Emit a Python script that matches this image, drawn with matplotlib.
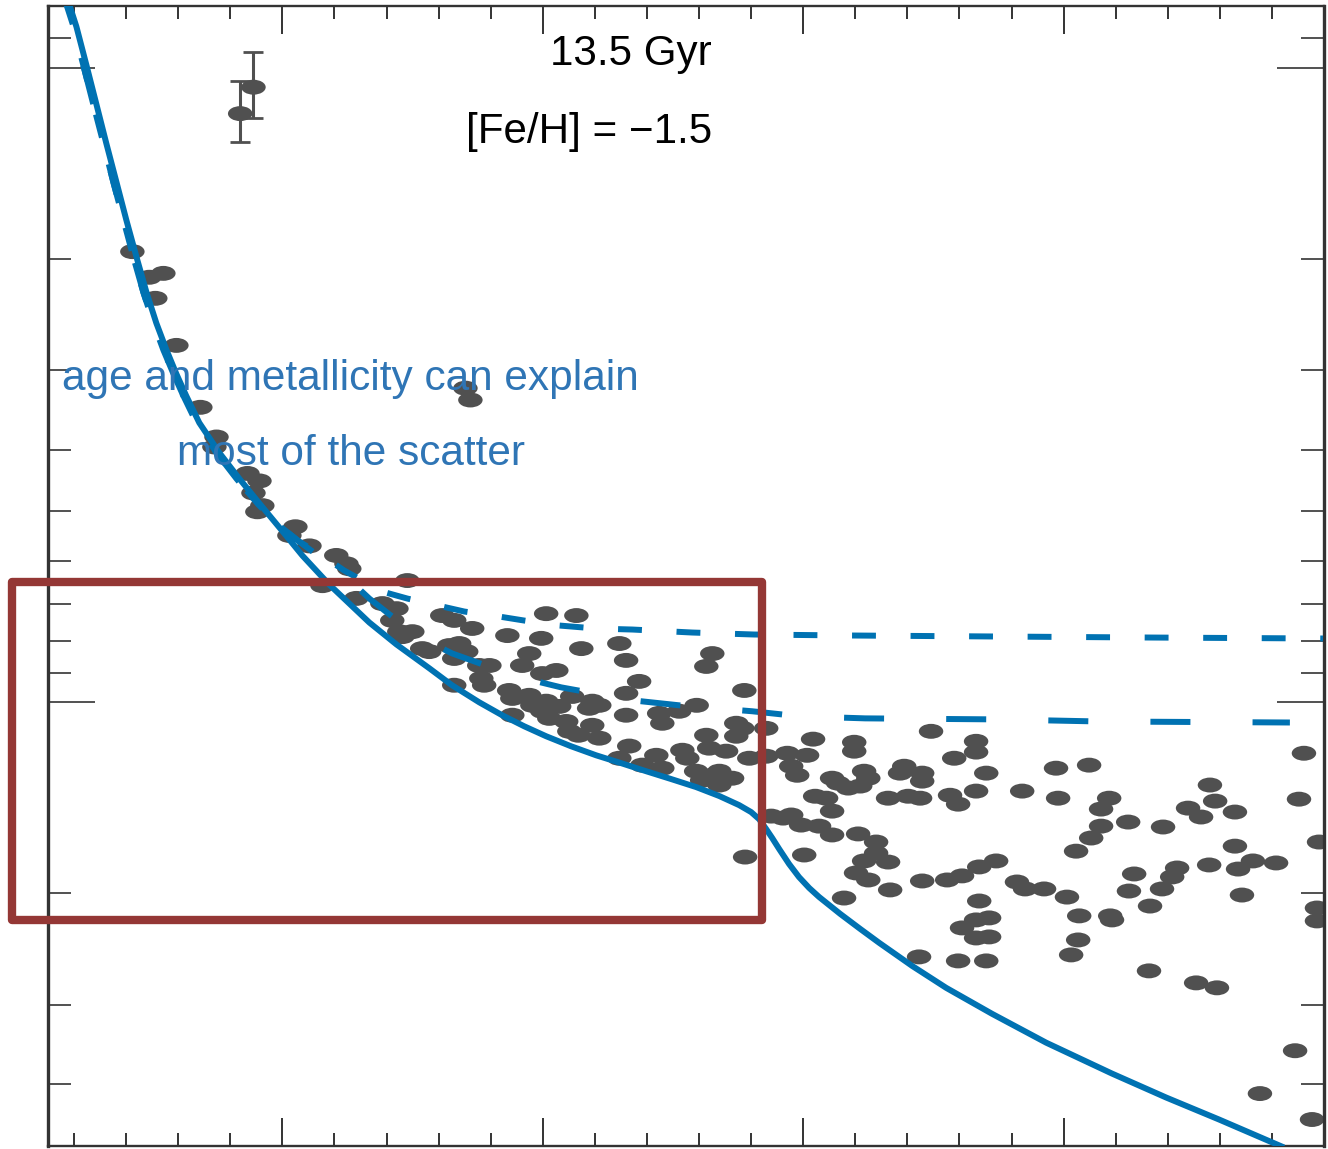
#!/usr/bin/env python3
"""
Isochrone vs. observed stars - 13.5 Gyr, [Fe/H] = -1.5
"""

import numpy as np
import matplotlib
matplotlib.use("Agg")
import matplotlib.pyplot as plt
from matplotlib.path import Path
from matplotlib.patches import Rectangle
from matplotlib.transforms import Affine2D
from matplotlib.ticker import MultipleLocator, LogLocator, NullFormatter

plt.rcParams['font.family'] = ['Liberation Sans', 'DejaVu Sans']

# ---- observed stars (x, y) ----
obs_x = [
    # upper branch
    0.424, 0.489, 0.543, 0.512, 0.593, 0.685, 0.747, 0.739, 0.866, 0.912,
    0.889, 0.923, 0.904, 1.050, 1.027, 1.104, 1.207, 1.246, 1.257, 1.154,
    1.480, 1.703, 1.722,
    # knee
    1.284, 1.384, 1.438, 1.422, 1.449, 1.499, 1.461, 1.614, 1.660, 1.729,
    1.537, 1.564, 1.641, 1.679, 1.706, 1.660, 1.756, 1.795, 1.764, 1.775,
    1.660, 1.864,
    # inside the box
    2.013, 2.129, 1.994, 2.148, 2.294, 1.948, 1.921, 2.320, 2.651, 2.628,
    2.052, 1.998, 2.370, 1.871, 1.883, 1.948, 1.960, 2.013, 2.063, 2.113,
    2.190, 2.217, 2.178, 2.320, 2.774, 2.591, 2.320, 2.447, 2.524, 2.459,
    1.883, 1.998, 2.025, 2.090, 2.102, 2.137, 2.190, 2.217, 2.743, 2.766,
    2.858, 2.628, 2.743, 2.332, 2.294, 2.436, 2.382, 2.459, 2.536, 2.555,
    2.639, 2.704, 2.589, 2.651, 2.727, 2.678, 2.612, 2.793, 2.858, 2.678,
    2.632, 2.777,
    # right of the box
    3.038, 3.196, 3.196, 2.939, 3.015, 2.954, 2.977, 3.111, 3.134, 3.046,
    3.088, 3.234, 3.250, 3.219, 3.173, 3.372, 3.388, 3.457, 3.457, 3.326,
    3.403, 3.449, 3.564, 3.595, 3.664, 3.703, 3.491, 3.664, 3.664, 3.580,
    3.841, 3.111, 2.954, 2.877, 2.923, 2.992, 3.061, 3.111, 3.211, 3.280,
    3.280, 3.234, 3.203, 3.250, 3.326, 3.334, 3.157, 3.004, 3.457, 3.553,
    3.610, 3.676, 3.741, 3.821, 3.852, 3.925, 4.013, 3.676, 3.610, 3.664,
    3.714, 3.664, 3.714, 3.445, 3.595, 3.703, 4.048,
    # far right
    3.971, 4.098, 3.979, 4.175, 4.144, 4.144, 4.248, 4.106, 4.382, 4.478,
    4.528, 4.562, 4.582, 4.658, 4.658, 4.559, 4.436, 4.417, 4.271, 4.378,
    4.251, 4.332, 4.670, 4.727, 4.816, 4.685, 4.060, 4.179, 4.186, 4.056,
    4.029, 4.328, 4.509, 4.589, 4.923, 4.904, 4.981, 4.973, 4.973, 4.889,
    4.754, 4.954,
]
obs_y = [
    1.95, 2.14, 2.11, 2.31, 2.74, 3.43, 3.82, 3.96, 4.36, 4.48,
    4.68, 4.90, 5.01, 5.29, 5.46, 5.67, 5.87, 6.05, 6.16, 6.55,
    6.43, 3.20, 3.34,
    6.86, 6.99, 7.12, 7.43, 7.74, 7.74, 7.88, 7.30, 7.43, 7.65,
    8.23, 8.32, 8.14, 8.08, 8.32, 8.53, 8.75, 8.75, 9.17, 9.40,
    9.40, 7.85,
    7.25, 7.30, 7.93, 8.23, 8.08, 8.38, 8.75, 8.59, 8.38, 8.78,
    8.91, 9.01, 9.27, 9.58, 9.86, 9.75, 10.11, 9.96, 10.15, 9.79,
    9.96, 10.11, 10.22, 9.68, 9.58, 10.11, 10.48, 10.41, 10.33, 10.79,
    10.48, 10.33, 10.60, 10.72, 11.11, 11.27, 10.87, 11.39, 10.79, 10.99,
    10.99, 11.27, 11.31, 11.72, 12.25, 12.12, 12.56, 12.70, 11.90, 12.25,
    11.81, 11.94, 12.84, 13.03, 13.17, 13.50, 13.27, 12.25, 12.16, 12.84,
    13.17, 17.53,
    11.43, 11.56, 11.94, 12.03, 12.12, 12.61, 13.03, 13.17, 13.41, 14.06,
    14.16, 12.84, 13.17, 13.55, 13.65, 12.93, 12.61, 12.93, 13.31, 14.16,
    14.06, 14.16, 14.01, 14.47, 13.80, 12.93, 11.11, 11.52, 11.98, 12.25,
    13.80, 14.84, 15.05, 15.11, 15.22, 15.61, 15.67, 16.18, 16.12, 16.60,
    17.28, 17.78, 18.57, 19.05, 17.85, 19.75, 20.34, 17.40, 19.12, 19.05,
    18.77, 18.17, 17.78, 19.19, 19.68, 19.68, 20.27, 20.56, 22.67, 22.02,
    21.86, 23.51, 23.42, 25.18, 25.55, 25.55, 17.16,
    12.70, 12.56, 14.16, 14.16, 14.73, 15.67, 15.44, 16.36, 15.72, 14.68,
    15.16, 13.50, 14.31, 14.89, 16.85, 18.04, 18.24, 18.84, 18.64, 19.68,
    19.83, 20.94, 18.31, 17.78, 17.91, 20.12, 21.70, 21.70, 22.02, 23.68,
    25.00, 26.49, 27.67, 28.17, 12.03, 14.21, 16.60, 21.09, 22.10, 35.39,
    41.34, 45.42,
]

# ---- typical error bars ----
err_x = [0.838, 0.889]
err_y = [1.182, 1.074]
err_y_size = [0.13, 0.129]

# ---- isochrone (solid) ----
iso_x = [0.178, 0.209, 0.248, 0.286, 0.324, 0.363, 0.401, 0.440, 0.478, 0.516,
         0.555, 0.593, 0.631, 0.681, 0.758, 0.835, 0.919, 1.008, 1.077, 1.180,
         1.257, 1.334, 1.438, 1.565, 1.652, 1.756, 1.844, 1.929, 2.013, 2.109,
         2.205, 2.301, 2.397, 2.493, 2.589, 2.678, 2.754, 2.800, 2.831, 2.858,
         2.881, 2.908, 2.946, 2.984, 3.023, 3.061, 3.142, 3.219, 3.292, 3.418,
         3.549, 3.725, 3.933, 4.186, 4.394, 4.597, 4.846]
iso_y = [0.787, 0.862, 0.993, 1.143, 1.317, 1.516, 1.740, 1.990, 2.259, 2.527,
         2.786, 3.039, 3.291, 3.628, 4.045, 4.445, 4.900, 5.424, 5.874, 6.524,
         6.989, 7.487, 8.106, 8.843, 9.403, 10.00, 10.48, 10.91, 11.31, 11.73,
         12.12, 12.47, 12.84, 13.21, 13.60, 14.05, 14.52, 14.89, 15.28, 15.84,
         16.36, 17.03, 17.98, 18.85, 19.61, 20.26, 21.54, 22.75, 23.93, 26.01,
         28.17, 30.95, 34.37, 38.45, 41.94, 45.42, 50.26]

# shared upper part of the two dashed isochrones
upper_x = [0.167, 0.198, 0.236, 0.274, 0.313, 0.351, 0.390, 0.428, 0.466, 0.505,
           0.543, 0.582, 0.620, 0.670, 0.747, 0.824, 0.908, 0.988, 1.065]
upper_y = [0.787, 0.862, 0.993, 1.143, 1.317, 1.516, 1.740, 1.990, 2.259, 2.527,
           2.786, 3.039, 3.291, 3.628, 4.045, 4.445, 4.882, 5.269, 5.584]

# short dashes
sd_x = [1.142, 1.238, 1.384, 1.480, 1.614, 1.699, 1.833, 1.929, 2.063, 2.205,
        2.344, 2.574, 2.812, 3.177, 3.752, 4.328, 4.996]
sd_y = [5.832, 6.202, 6.693, 6.864, 7.065, 7.195, 7.327, 7.434, 7.569, 7.652,
        7.680, 7.764, 7.820, 7.848, 7.877, 7.906, 7.934]

# long dashes
ld_x = [1.142, 1.219, 1.334, 1.514, 1.652, 1.898, 2.071, 2.344, 2.524, 2.804,
        2.985, 3.238, 3.752, 4.136, 4.869]
ld_y = [5.895, 6.202, 6.864, 7.848, 8.376, 9.103, 9.473, 9.928, 10.11, 10.33,
        10.52, 10.60, 10.64, 10.72, 10.76]

# highlight box (data units)
box_x = [-0.040, 2.841]
box_y = [6.454, 22.02]

# ---- styles ----
line_blue = '#0072B2'
text_blue = '#2F75B5'
dot_grey = '#505050'
box_red = '#943735'
axis_grey = '#333333'
lw_iso = 4.3

dot_marker = Affine2D().scale(1.0, 0.61).transform_path(Path.unit_circle())

fig = plt.figure(figsize=(13.28, 11.49), dpi=100)
ax = fig.add_axes([48 / 1328, 3 / 1149, 1276 / 1328, 1140 / 1149])

ax.scatter(obs_x, obs_y, s=310, marker=dot_marker, color=dot_grey,
           edgecolors='none', zorder=2)

ax.errorbar(err_x, err_y, yerr=err_y_size, fmt='none', ecolor=dot_grey,
            elinewidth=2.2, capsize=7.5, capthick=2.0, zorder=2)
ax.scatter(err_x, err_y, s=310, marker=dot_marker, color=dot_grey,
           edgecolors='none', zorder=2)

ax.plot(iso_x, iso_y, color=line_blue, lw=lw_iso, solid_capstyle='butt',
        solid_joinstyle='round', zorder=3)
ax.plot(upper_x + sd_x, upper_y + sd_y, color=line_blue, lw=lw_iso,
        linestyle=(0, (4.0, 5.8)), dash_capstyle='butt', zorder=3)
ax.plot(upper_x + ld_x, upper_y + ld_y, color=line_blue, lw=lw_iso,
        linestyle=(6.0, (6.7, 10.4)), dash_capstyle='butt', zorder=3)

box = Rectangle((box_x[0], box_y[0]), box_x[1] - box_x[0], box_y[1] - box_y[0],
                fill=False, edgecolor=box_red, lw=6, joinstyle='round',
                clip_on=False, zorder=6)
ax.add_patch(box)

# annotations
ax.text(0.5204, 0.9482, '13.5 Gyr', transform=ax.transAxes, ha='right',
        va='baseline', fontsize=30.3, color='black', zorder=7)
ax.text(0.5204, 0.8798, '[Fe/H] = \u22121.5', transform=ax.transAxes, ha='right',
        va='baseline', fontsize=30.3, color='black', zorder=7)
ax.text(0.011, 0.6632, 'age and metallicity can explain', transform=ax.transAxes,
        ha='left', va='baseline', fontsize=30.5, color=text_blue, zorder=7)
ax.text(0.1011, 0.5974, 'most of the scatter', transform=ax.transAxes,
        ha='left', va='baseline', fontsize=30.5, color=text_blue, zorder=7)

# axes
ax.set_yscale('log')
ax.set_xlim(0.1, 5.0)
ax.set_ylim(50, 0.8)

ax.xaxis.set_major_locator(MultipleLocator(1))
ax.xaxis.set_minor_locator(MultipleLocator(0.2))
ax.yaxis.set_major_locator(LogLocator(base=10))
ax.yaxis.set_minor_locator(LogLocator(base=10, subs=np.arange(2, 10) * 1.0))
ax.yaxis.set_minor_formatter(NullFormatter())

ax.tick_params(which='both', direction='in', top=True, right=True,
               labelbottom=False, labelleft=False, labeltop=False,
               labelright=False, color=axis_grey)
ax.tick_params(axis='x', which='major', length=20, width=1.4)
ax.tick_params(axis='x', which='minor', length=9.5, width=1.4)
ax.tick_params(axis='y', which='major', length=34, width=1.2)
ax.tick_params(axis='y', which='minor', length=16.5, width=1.2)

for side in ['left', 'right']:
    ax.spines[side].set_linewidth(2.4)
    ax.spines[side].set_color(axis_grey)
for side in ['top', 'bottom']:
    ax.spines[side].set_linewidth(1.7)
    ax.spines[side].set_color(axis_grey)

fig.savefig('out.png', dpi=100, facecolor='white')
